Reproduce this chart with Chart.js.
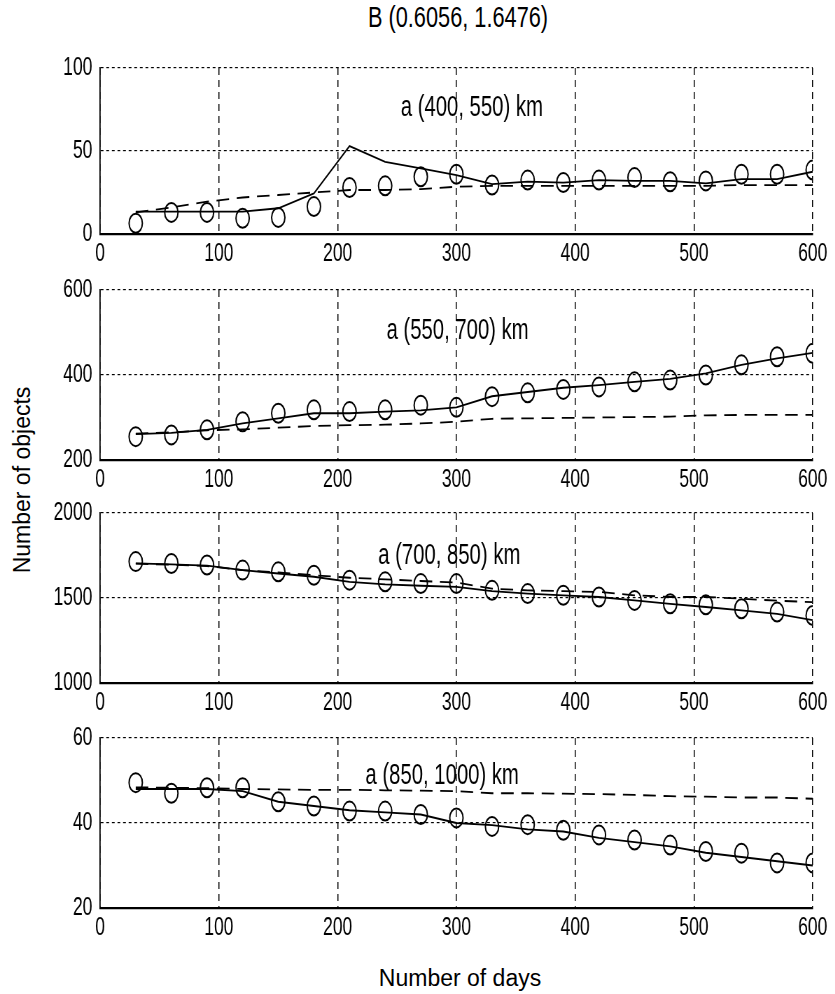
<!DOCTYPE html>
<html>
<head>
<meta charset="utf-8">
<script src="https://cdn.jsdelivr.net/npm/chart.js@4.4.1/dist/chart.umd.min.js"></script>
<style>
  html, body { margin: 0; padding: 0; background: #fff; }
  #page { position: relative; width: 835px; height: 994px; overflow: hidden; color: #000;
          font-family: 'Liberation Sans', Arial, sans-serif; }
  canvas { position: absolute; left: 0; transform: scaleX(0.7); transform-origin: 0 0; }
  .txt { position: absolute; white-space: nowrap; transform: translate(-50%, -50%); }
</style>
</head>
<body>
<div id="page">
  <div class="txt" style="left:458px; top:17px; font-size:29px; transform:translate(-50%,-50%) scaleX(0.75);">B (0.6056, 1.6476)</div>
  <div class="txt" style="left:22px; top:480px; font-size:23px; transform:translate(-50%,-50%) rotate(-90deg);">Number of objects</div>
  <div class="txt" style="left:460px; top:978px; font-size:23px;">Number of days</div>
  <canvas id="c1"></canvas>
  <canvas id="c2"></canvas>
  <canvas id="c3"></canvas>
  <canvas id="c4"></canvas>
</div>
<script>
// x values (days)
var days = [30, 60, 90, 120, 150, 180, 210, 240, 270, 300, 330, 360, 390, 420, 450, 480, 510, 540, 570, 600];
var xTicks = [0, 100, 200, 300, 400, 500, 600];

// a (400, 550) km
var p1Circles = [6.5, 13, 13, 9.5, 10, 16.5, 28, 29, 34.5, 36, 29.5, 32.5, 31, 32.5, 34, 31.5, 32, 36, 36, 38.5];
var p1Solid   = [13.5, 13.5, 13.5, 13.5, 15.5, 24.5, 53, 43.5, 39.5, 35.5, 30, 31.5, 31, 32.5, 32, 32, 30.5, 33, 33, 37.5];
var p1Dashed  = [13, 16, 19.5, 22, 23.5, 25, 26.5, 26.5, 27, 28.5, 29, 29, 29, 29, 29, 29, 29, 29.5, 29.5, 29.5];
var p1Ticks   = [0, 50, 100];

// a (550, 700) km
var p2Circles = [255, 259, 271, 290, 310, 318, 314, 318, 329, 324, 349, 358, 366, 372, 384, 388, 400, 424, 443, 451];
var p2Solid   = [261, 264, 271, 286, 298, 310, 310, 314, 317, 324, 350, 360, 370, 376, 384, 391, 404, 424, 439, 452];
var p2Dashed  = [262, 265, 270, 272, 276, 280, 282, 283, 286, 290, 297, 298, 299, 300, 301, 302, 305, 306, 306, 306];
var p2Ticks   = [200, 400, 600];

// a (700, 850) km
var p3Circles = [1714, 1703, 1694, 1664, 1654, 1634, 1605, 1595, 1585, 1585, 1545, 1526, 1516, 1506, 1486, 1466, 1460, 1437, 1417, 1397];
var p3Solid   = [1704, 1698, 1690, 1664, 1644, 1625, 1595, 1580, 1572, 1565, 1540, 1526, 1516, 1506, 1486, 1466, 1447, 1427, 1407, 1370];
var p3Dashed  = [1702, 1696, 1688, 1664, 1650, 1634, 1619, 1610, 1600, 1591, 1555, 1545, 1540, 1536, 1516, 1506, 1506, 1496, 1484, 1476];
var p3Ticks   = [1000, 1500, 2000];

// a (850, 1000) km
var p4Circles = [49.5, 47, 48.3, 48.3, 45, 44, 42.8, 42.8, 42, 41.2, 39.2, 39.6, 38.3, 37.2, 36, 34.8, 33.3, 32.9, 30.6, 30.6];
var p4Solid   = [48, 48, 48, 47.5, 45, 44, 43, 42.5, 42, 40, 39.5, 38.5, 38, 36.5, 35.5, 34.5, 33, 32, 31, 30];
var p4Dashed  = [48.4, 48.3, 48.2, 48, 47.9, 47.8, 47.8, 47.7, 47.6, 47.5, 47, 47, 46.9, 46.8, 46.6, 46.3, 46.2, 46, 46, 45.7];
var p4Ticks   = [20, 40, 60];

var panelNames = ['a (400, 550) km', 'a (550, 700) km', 'a (700, 850) km', 'a (850, 1000) km'];

// canvases are drawn wide and squeezed to 0.7 horizontally (narrow text, tall circles)
var SQ = 0.7;
var W = Math.round(835 / SQ);
var PAD_TOP = 30;
var tickFont = { family: "'Liberation Sans', Arial, sans-serif", size: 25 };

var panelLabel = {
  id: 'panelLabel',
  afterDatasetsDraw: function (chart) {
    var o = chart.options.plugins.panelLabel;
    var ctx = chart.ctx;
    ctx.save();
    ctx.font = "29px 'Liberation Sans', Arial, sans-serif";
    ctx.fillStyle = '#000';
    ctx.textAlign = 'center';
    ctx.textBaseline = 'middle';
    ctx.fillText(o.text, chart.scales.x.getPixelForValue(o.x), chart.scales.y.getPixelForValue(o.y));
    ctx.restore();
  }
};

function xy(vals) {
  return vals.map(function (v, i) { return { x: days[i], y: v }; });
}

function makePanel(id, top, bottom, circles, solid, dashed, yTicks, name, labelX, labelY) {
  var cv = document.getElementById(id);
  cv.width = W;
  cv.height = bottom - top + PAD_TOP + 42;
  cv.style.top = (top - PAD_TOP) + 'px';
  new Chart(cv.getContext('2d'), {
    type: 'line',
    data: {
      datasets: [
        { data: xy(solid), borderColor: '#000', borderWidth: 1.8, pointRadius: 0, fill: false },
        { data: xy(dashed), borderColor: '#000', borderWidth: 1.8, borderDash: [18, 11], pointRadius: 0, fill: false },
        { data: xy(circles), showLine: false, pointStyle: 'circle', pointRadius: 9.5, borderWidth: 2,
          borderColor: '#000', backgroundColor: 'rgba(0,0,0,0)' }
      ]
    },
    options: {
      responsive: false,
      animation: false,
      devicePixelRatio: 1,
      layout: { padding: { top: PAD_TOP, right: W - Math.round(813 / SQ), left: 0, bottom: 0 } },
      plugins: {
        legend: { display: false },
        tooltip: { enabled: false },
        panelLabel: { text: name, x: labelX, y: labelY }
      },
      scales: {
        x: {
          type: 'linear', min: xTicks[0], max: xTicks[xTicks.length - 1],
          afterBuildTicks: function (s) { s.ticks = xTicks.map(function (v) { return { value: v }; }); },
          afterFit: function (s) { s.height = 42; },
          grid: { color: '#000', lineWidth: 1.5, drawTicks: false },
          border: { display: true, color: '#000', width: 2.2, dash: [7, 5] },
          ticks: { color: '#000', font: tickFont, padding: 5, maxRotation: 0,
                   callback: function (v) { return String(v); } }
        },
        y: {
          type: 'linear', min: yTicks[0], max: yTicks[yTicks.length - 1],
          afterBuildTicks: function (s) { s.ticks = yTicks.map(function (v) { return { value: v }; }); },
          afterFit: function (s) { s.width = Math.round(100 / SQ); },
          grid: { color: '#000', lineWidth: 1.2, drawTicks: false },
          border: { display: true, color: '#000', width: 1.8, dash: [4, 4] },
          ticks: { color: '#000', font: tickFont, padding: 11,
                   callback: function (v) { return String(v); } }
        }
      }
    },
    plugins: [panelLabel]
  });
}

makePanel('c1', 68, 234, p1Circles, p1Solid, p1Dashed, p1Ticks, panelNames[0], 313, 76);
makePanel('c2', 290, 460, p2Circles, p2Solid, p2Dashed, p2Ticks, panelNames[1], 301, 503);
makePanel('c3', 513, 683, p3Circles, p3Solid, p3Dashed, p3Ticks, panelNames[2], 294, 1745);
makePanel('c4', 738, 908, p4Circles, p4Solid, p4Dashed, p4Ticks, panelNames[3], 288, 51);
</script>
</body>
</html>
